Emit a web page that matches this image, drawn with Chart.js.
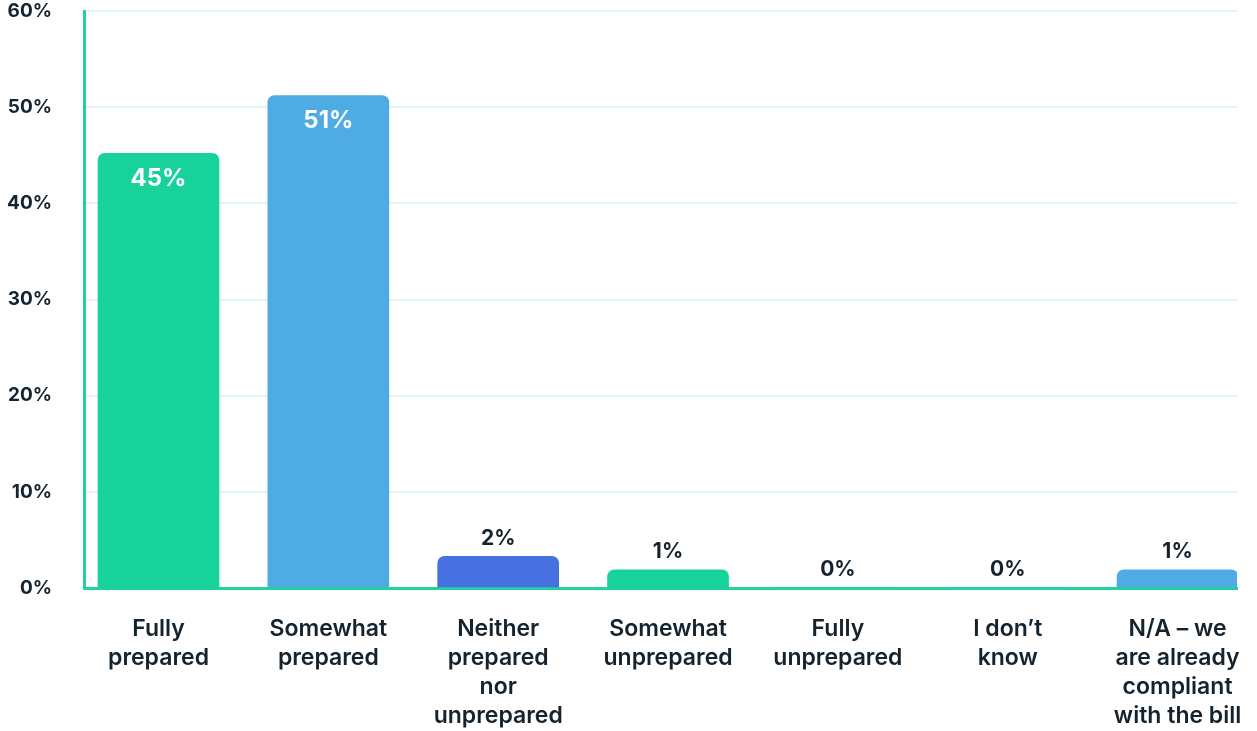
<!DOCTYPE html>
<html>
<head>
<meta charset="utf-8">
<script src="https://cdn.jsdelivr.net/npm/chart.js@4/dist/chart.umd.min.js"></script>
<style>
  html, body { margin: 0; padding: 0; background: #fff; }
  #wrap { width: 1257px; height: 731px; position: relative; }
</style>
</head>
<body>
<div id="wrap"><canvas id="prep-chart"></canvas></div>
<script>
// categories, one entry per bar (multi-line labels)
const categories = [
  ['Fully', 'prepared'],
  ['Somewhat', 'prepared'],
  ['Neither', 'prepared', 'nor', 'unprepared'],
  ['Somewhat', 'unprepared'],
  ['Fully', 'unprepared'],
  ['I don’t', 'know'],
  ['N/A – we', 'are already', 'compliant', 'with the bill']
]
// bar heights (percent)
const barValues = [45.2, 51.2, 3.3, 1.9, 0, 0, 1.9]
// printed value labels
const valueLabels = ['45%', '51%', '2%', '1%', '0%', '0%', '1%']
const barColors = ['#17d39b', '#4eabe3', '#4771e0', '#17d39b', '#17d39b', '#4eabe3', '#4eabe3']
const yTicks = [0, 10, 20, 30, 40, 50, 60]

const FONT = 'Inter, "Noto Sans", sans-serif'
const TEXT = '#15232e'
const AXIS_GREEN = '#1ed3a0'

// draws the % label on / above each bar
const valueLabelPlugin = {
  id: 'valueLabels',
  afterDatasetsDraw (chart) {
    const ctx = chart.ctx
    const meta = chart.getDatasetMeta(0)
    ctx.save()
    ctx.textAlign = 'center'
    ctx.textBaseline = 'middle'
    meta.data.forEach((bar, i) => {
      if (barValues[i] > 10) {
        ctx.fillStyle = '#ffffff'
        ctx.font = '700 24px ' + FONT
        ctx.fillText(valueLabels[i], bar.x, bar.y + 25)
      } else {
        ctx.fillStyle = TEXT
        ctx.font = '700 21px ' + FONT
        ctx.fillText(valueLabels[i], bar.x, bar.y - 18)
      }
    })
    ctx.restore()
  }
}

const data = {
  datasets: [{
    data: categories.map((c, i) => ({ x: i, y: barValues[i] })),
    backgroundColor: barColors,
    borderRadius: { topLeft: 7, topRight: 7, bottomLeft: 0, bottomRight: 0 },
    borderSkipped: 'bottom',
    barThickness: 121
  }]
}

const options = {
  responsive: true,
  maintainAspectRatio: false,
  animation: false,
  layout: {
    padding: { top: 11, right: 20, left: 0, bottom: 0 }
  },
  plugins: {
    legend: { display: false },
    tooltip: { enabled: false }
  },
  scales: {
    x: {
      type: 'linear',
      offset: false,
      bounds: 'data',
      min: -0.4387,
      max: 6.35,
      afterBuildTicks (scale) {
        scale.ticks = categories.map((c, i) => ({ value: i }))
      },
      afterFit (scale) {
        scale.height = 143
        scale.paddingLeft = 0
        scale.paddingRight = 0
      },
      grid: { display: false, drawTicks: false, offset: false },
      border: { display: true, color: AXIS_GREEN, width: 3 },
      ticks: {
        autoSkip: false,
        maxRotation: 0,
        padding: 27,
        color: TEXT,
        font: { family: FONT, size: 23, weight: '600', lineHeight: 1.26 },
        callback: (value) => categories[value]
      }
    },
    y: {
      min: 0,
      max: 60,
      afterBuildTicks (scale) {
        scale.ticks = yTicks.map(v => ({ value: v }))
      },
      afterFit (scale) {
        scale.width = 84
        scale.paddingTop = 0
        scale.paddingBottom = 0
      },
      grid: { color: '#e0f7f0', lineWidth: 2, drawTicks: false },
      border: { display: true, color: AXIS_GREEN, width: 3 },
      ticks: {
        padding: 32,
        color: TEXT,
        font: { family: FONT, size: 19, weight: '700' },
        callback: (value) => value + '%'
      }
    }
  }
}

new Chart(document.getElementById('prep-chart').getContext('2d'), {
  type: 'bar',
  data,
  options,
  plugins: [valueLabelPlugin]
})
</script>
</body>
</html>
